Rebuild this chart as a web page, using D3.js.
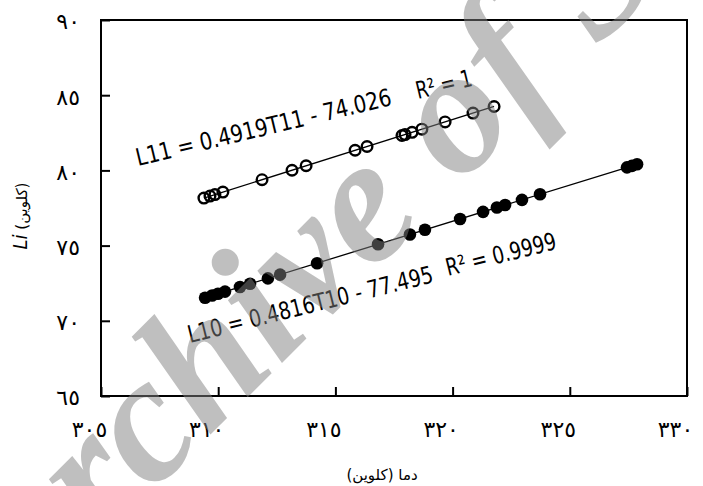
<!DOCTYPE html>
<html>
<head>
<meta charset="utf-8">
<script src="https://cdn.jsdelivr.net/npm/d3@7"></script>
<style>
  html, body { margin: 0; padding: 0; background: #fff; }
  svg { display: block; }
</style>
</head>
<body>
<svg id="chart" width="703" height="486"></svg>
<script>
// ---------- data ----------
const xTicks = [305, 310, 315, 320, 325, 330];
const xTickLabels = ["٣٠٥", "٣١٠", "٣١٥", "٣٢٠", "٣٢٥", "٣٣٠"];
const yTicks = [65, 70, 75, 80, 85, 90];
const yTickLabels = ["٦٥", "٧٠", "٧٥", "٨٠", "٨٥", "٩٠"];

// L11 series (open circles)
const t11 = [309.39, 309.65, 309.86, 310.20, 311.87, 313.15, 313.75, 315.84, 316.35,
             317.84, 317.97, 318.27, 318.69, 319.68, 320.87, 321.77];
const l11 = [78.16, 78.29, 78.39, 78.56, 79.38, 80.01, 80.31, 81.34, 81.59,
             82.32, 82.38, 82.53, 82.74, 83.22, 83.81, 84.25];

// L10 series (filled circles)
const t10 = [309.44, 309.74, 309.99, 310.29, 310.93, 311.36, 312.12, 312.64, 314.22,
             316.82, 318.18, 318.82, 320.32, 321.30, 321.89, 322.24, 322.96, 323.73,
             327.44, 327.65, 327.87];
const l10 = [71.53, 71.68, 71.80, 71.94, 72.25, 72.46, 72.82, 73.07, 73.83,
             75.09, 75.74, 76.05, 76.77, 77.24, 77.53, 77.70, 78.04, 78.41,
             80.20, 80.30, 80.41];

// trendline coefficients [slope, intercept]
const fit11 = [0.4919, -74.026];
const fit10 = [0.4816, -77.495];

const eq11 = "L11 = 0.4919T11 - 74.026";
const r11 = "R² = 1";
const eq10 = "L10 = 0.4816T10 - 77.495";
const r10 = "R² = 0.9999";

const xTitle = "دما (کلوین)";
const yTitleItalic = "Li";
const yTitleRest = " (کلوین)";
const watermark = "Archive of SID";

// ---------- layout ----------
const svg = d3.select("#chart");
const pLeft = 101, pRight = 687, pTop = 20, pBottom = 396;
const x = d3.scaleLinear().domain([305, 330]).range([pLeft, pRight]);
const y = d3.scaleLinear().domain([65, 90]).range([pBottom, pTop]);

const arabicFont = "'DejaVu Sans', sans-serif";
const latinFont = "'Liberation Sans Narrow', 'DejaVu Sans Condensed', 'Liberation Sans', sans-serif";

// axes
const yAxis = d3.axisLeft(y).tickValues(yTicks)
  .tickFormat((d, i) => yTickLabels[i]).tickSize(-9).tickPadding(21);
const xAxis = d3.axisBottom(x).tickValues(xTicks)
  .tickFormat((d, i) => xTickLabels[i]).tickSize(-9).tickPadding(30);

const gy = svg.append("g").attr("transform", `translate(${pLeft},0)`).call(yAxis);
const gx = svg.append("g").attr("transform", `translate(0,${pBottom})`).call(xAxis);
[gx, gy].forEach(g => {
  g.select(".domain").remove();
  g.selectAll(".tick line").attr("stroke", "#000").attr("stroke-width", 2);
  g.selectAll(".tick text").attr("fill", "#000")
    .style("font-family", arabicFont).style("font-size", "22px");
});
gy.selectAll(".tick text").attr("dy", "0.4em");
gx.selectAll(".tick text").attr("dx", -12).attr("dy", "0.5em");

// frame
svg.append("rect").attr("x", pLeft).attr("y", pTop)
  .attr("width", pRight - pLeft).attr("height", pBottom - pTop)
  .attr("fill", "none").attr("stroke", "#000").attr("stroke-width", 2);

// trendlines
function trend(ts, fit) {
  const t0 = d3.min(ts), t1 = d3.max(ts);
  svg.append("line")
    .attr("x1", x(t0)).attr("y1", y(fit[0] * t0 + fit[1]))
    .attr("x2", x(t1)).attr("y2", y(fit[0] * t1 + fit[1]))
    .attr("stroke", "#000").attr("stroke-width", 1.3);
}
trend(t11, fit11);
trend(t10, fit10);

// points
svg.append("g").selectAll("circle").data(t11.map((t, i) => [t, l11[i]])).join("circle")
  .attr("cx", d => x(d[0])).attr("cy", d => y(d[1])).attr("r", 5.3)
  .attr("fill", "none").attr("stroke", "#000").attr("stroke-width", 2.4);
svg.append("g").selectAll("circle").data(t10.map((t, i) => [t, l10[i]])).join("circle")
  .attr("cx", d => x(d[0])).attr("cy", d => y(d[1])).attr("r", 6.3)
  .attr("fill", "#000");

// equation labels
function label(txt, px, py, ang, len) {
  svg.append("text").attr("transform", `translate(${px},${py}) rotate(${ang})`)
    .attr("textLength", len).attr("lengthAdjust", "spacingAndGlyphs")
    .style("font-family", latinFont).style("font-size", "24px").attr("fill", "#000")
    .text(txt);
}
label(eq11, 138, 166, -13.5, 262);
label(r11, 418, 99, -13.5, 57);
label(eq10, 190, 343, -14, 252);
label(r10, 448, 276, -14, 113);

// axis titles
svg.append("text").attr("x", 382).attr("y", 480).attr("text-anchor", "middle")
  .style("font-family", arabicFont).style("font-size", "15px").attr("fill", "#000")
  .text(xTitle);

const yt = svg.append("text").attr("transform", "translate(27,216) rotate(-90)")
  .attr("text-anchor", "middle").style("font-family", arabicFont)
  .style("font-size", "15px").attr("fill", "#000");
yt.append("tspan").style("font-style", "italic").style("font-family", latinFont)
  .style("font-size", "20px").text(yTitleItalic);
yt.append("tspan").text(yTitleRest);

// watermark
svg.append("text").attr("transform", "translate(17,628) rotate(-45)")
  .style("font-family", "'Liberation Serif', 'Times New Roman', serif")
  .style("font-style", "italic").style("font-weight", "bold")
  .style("font-size", "180px").attr("fill", "#808080").attr("fill-opacity", 0.5)
  .text(watermark);
</script>
</body>
</html>
